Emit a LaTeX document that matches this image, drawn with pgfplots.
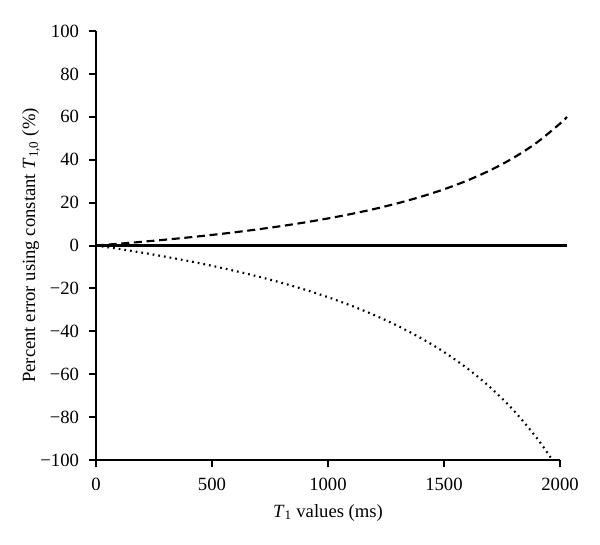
\documentclass[border=0pt]{standalone}
\usepackage{pgfplots}
\pgfplotsset{compat=1.18}
\usepackage{fontspec}
\setmainfont{Liberation Serif}
\begin{document}
\begin{tikzpicture}[x=1pt,y=1pt,font=\fontsize{14}{16}\selectfont]
\begin{axis}[
  scale only axis,
  width=348pt, height=321.75pt,
  at={(0,0)}, anchor=south west,
  xmin=0, xmax=2000, ymin=-100, ymax=100,
  clip=false,
  axis x line*=bottom, axis y line*=left,
  axis line style={line width=1.5pt,-},
  every tick/.style={line width=1.5pt,black},
  tick align=outside,
  major tick length=5.25pt,
  xtick={0,500,1000,1500,2000},
  ytick={-100,-80,-60,-40,-20,0,20,40,60,80,100},
  yticklabels={−100,−80,−60,−40,−20,0,20,40,60,80,100},
  /pgf/number format/assume math mode=true,
  /pgf/number format/1000 sep={},
  xticklabel style={yshift=-5pt},
  yticklabel style={xshift=-4pt},
  xlabel={\textit{T}\textsubscript{1} values (ms)},
  ylabel={Percent error using constant \textit{T}\textsubscript{1,0} (\%)},
  xlabel style={yshift=-3pt},
  ylabel style={yshift=-6.5pt},
]
\addplot[black, line width=1.6pt] coordinates {(0,0) (2030,0)};
\addplot[black, line width=1.6pt, dash pattern=on 6pt off 3.5pt, smooth] coordinates {
(0,0) (100,0.84) (200,1.75) (300,2.73) (400,3.78) (500,4.94) (600,6.19) (700,7.57)
(800,9.08) (900,10.76) (1000,12.62) (1100,14.70) (1200,17.04) (1300,19.69)
(1400,22.72) (1500,26.21) (1600,30.29) (1700,35.11) (1800,40.90) (1900,47.98)
(2000,56.82) (2030,59.92)};
\addplot[black, line width=1.6pt, dash pattern=on 1.3pt off 3pt, smooth] coordinates {
(0,0) (100,-1.62) (200,-3.36) (300,-5.24) (400,-7.27) (500,-9.47) (600,-11.88)
(700,-14.50) (800,-17.39) (900,-20.57) (1000,-24.10) (1100,-28.04) (1200,-32.45)
(1300,-37.45) (1400,-43.13) (1500,-49.66) (1600,-57.25) (1700,-66.18) (1800,-76.82)
(1900,-89.73) (1960,-98.9)};
\end{axis}
\path[use as bounding box] (-72pt,-63pt) rectangle (378pt,345pt);
\end{tikzpicture}
\end{document}
